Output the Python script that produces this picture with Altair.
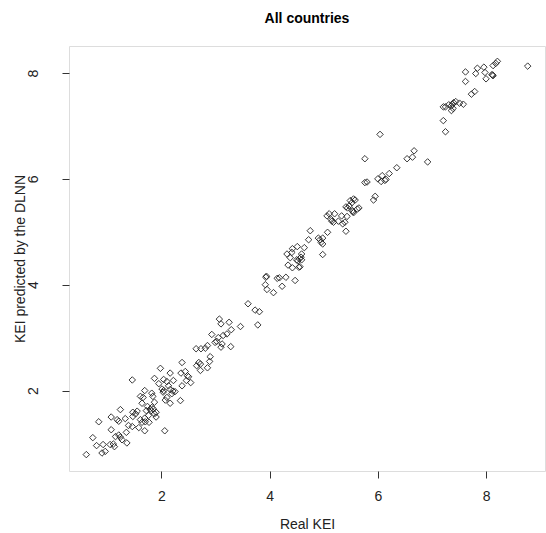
import altair as alt
import pandas as pd

real_kei = [
    8.77, 8.21, 8.18, 8.13, 7.96, 7.84, 7.98, 8.11, 8.13, 8.12, 7.81, 7.62, 8.00, 7.62, 7.79, 7.73,
    7.44, 7.38, 7.40, 7.36, 7.39, 7.51, 7.58, 7.21, 7.25, 7.31, 7.36, 7.21, 7.25,
    6.04, 5.76, 6.67, 6.64, 6.54, 6.92, 6.35, 6.21, 6.08, 6.00, 6.06, 6.13, 6.15, 5.76, 5.80, 5.95, 5.92,
    5.55, 5.49, 5.58, 5.41, 5.47, 5.53, 5.55, 5.54, 5.65, 5.62, 5.44, 5.52,
    5.06, 5.10, 5.20, 5.14, 5.15, 5.18, 5.33, 5.43, 5.27, 5.35, 5.39, 5.41,
    4.75, 5.07, 4.72, 4.90, 4.93, 4.98, 4.95, 4.98, 4.98, 4.64, 4.59, 4.58, 4.59, 4.56,
    4.51, 4.42, 4.32, 4.38, 4.41, 4.50, 4.55, 4.52, 4.34, 4.42, 4.54, 4.47,
    3.93, 3.94, 3.92, 3.95, 4.07, 4.14, 4.18, 4.30, 4.23,
    3.60, 3.73, 3.81, 3.78, 3.07, 3.10, 3.25, 3.46, 3.29,
    2.93, 3.14, 3.21, 2.99, 3.02, 3.05, 3.12, 3.10, 3.28, 2.85, 2.64, 2.73, 2.81, 2.90,
    2.38, 2.89, 2.69, 2.72, 2.65, 2.85, 2.72, 1.98, 2.16, 2.36, 2.44, 2.48, 2.50, 2.46, 2.54, 2.38,
    1.87, 2.04, 2.10, 2.22, 1.95, 2.13, 2.01, 2.04, 2.03, 2.16, 2.21, 2.25, 2.19, 2.10, 2.07, 2.16, 2.35,
    1.82, 1.84, 1.87, 1.82, 1.85, 1.81, 1.90, 1.87, 1.90,
    1.46, 1.69, 1.61, 1.66, 1.64, 1.74, 1.79, 1.72, 1.76,
    1.69, 1.77, 2.06, 1.24, 1.47, 1.52, 1.55, 1.33, 1.47, 1.61, 1.64, 1.70, 1.39, 1.46, 1.58, 1.69,
    1.35, 1.07, 0.84, 1.07, 1.18, 1.21, 1.24, 1.27, 1.21, 1.15, 1.36, 1.05, 1.11, 1.13,
    0.73, 0.80, 0.92, 0.90, 0.96, 0.61,
]

predicted_kei = [
    8.13, 8.22, 8.18, 8.14, 8.11, 8.09, 8.01, 7.97, 7.95, 7.96, 7.99, 8.02, 7.89, 7.84, 7.65, 7.60,
    7.46, 7.41, 7.44, 7.38, 7.33, 7.43, 7.41, 7.36, 7.36, 7.40, 7.29, 7.10, 6.89,
    6.84, 6.38, 6.53, 6.41, 6.38, 6.32, 6.21, 6.10, 6.06, 6.00, 5.95, 5.97, 5.99, 5.93, 5.94, 5.67, 5.60,
    5.62, 5.59, 5.60, 5.47, 5.49, 5.40, 5.36, 5.38, 5.45, 5.43, 5.45, 5.55,
    5.30, 5.34, 5.34, 5.23, 5.20, 5.18, 5.30, 5.29, 5.20, 5.15, 5.18, 5.01,
    5.02, 4.99, 4.85, 4.88, 4.85, 4.88, 4.80, 4.77, 4.57, 4.70, 4.58, 4.52, 4.47, 4.34,
    4.72, 4.68, 4.58, 4.51, 4.61, 4.47, 4.49, 4.45, 4.37, 4.32, 4.33, 4.08,
    4.14, 4.16, 4.00, 3.91, 3.85, 4.12, 4.13, 4.14, 3.97,
    3.64, 3.52, 3.49, 3.24, 3.35, 3.26, 3.29, 3.21, 3.15,
    3.06, 3.04, 3.07, 2.91, 2.93, 3.00, 2.88, 2.82, 2.83, 2.85, 2.79, 2.79, 2.80, 2.64,
    2.53, 2.55, 2.53, 2.50, 2.47, 2.43, 2.38, 2.42, 2.33, 2.33, 2.36, 2.28, 2.26, 2.19, 2.15, 2.09,
    2.23, 2.21, 2.17, 2.19, 2.13, 2.09, 2.03, 2.00, 1.97, 2.02, 1.99, 1.98, 1.94, 1.87, 1.82, 1.76, 1.81,
    1.95, 1.89, 1.78, 1.68, 1.65, 1.62, 1.59, 1.56, 1.50,
    2.20, 2.00, 1.89, 1.87, 1.76, 1.70, 1.65, 1.62, 1.53,
    1.48, 1.40, 1.24, 1.64, 1.59, 1.56, 1.61, 1.47, 1.51, 1.45, 1.40, 1.41, 1.34, 1.32, 1.30, 1.24,
    1.21, 1.26, 1.41, 1.50, 1.45, 1.42, 1.12, 1.07, 1.16, 1.13, 1.01, 0.98, 0.99, 0.94,
    1.11, 0.96, 0.98, 0.82, 0.85, 0.79,
]

x_ticks = [2, 4, 6, 8]
y_ticks = [2, 4, 6, 8]

df = pd.DataFrame({"real": real_kei, "pred": predicted_kei})

FONT = "Liberation Sans"

points = alt.Chart(df).mark_point(
    shape="diamond", filled=False, size=42, strokeWidth=0.9, color="#222", opacity=1
).encode(
    x=alt.X(
        "real:Q",
        scale=alt.Scale(domain=[0.29, 9.09], nice=False, zero=False),
        axis=alt.Axis(
            values=x_ticks, title="Real KEI", grid=False, domain=False,
            tickSize=7, tickColor="#333", labelPadding=11,
            labelFontSize=14, labelFont=FONT, labelColor="#222",
            titleFontSize=14, titleFont=FONT, titleFontWeight="normal",
            titleColor="#222", titleY=57, titleBaseline="alphabetic",
        ),
    ),
    y=alt.Y(
        "pred:Q",
        scale=alt.Scale(domain=[0.48, 8.51], nice=False, zero=False),
        axis=alt.Axis(
            values=y_ticks, title="KEI predicted by the DLNN", grid=False, domain=False,
            tickSize=7, tickColor="#333", labelPadding=22,
            labelAngle=270, labelAlign="center", labelBaseline="bottom",
            labelFontSize=14, labelFont=FONT, labelColor="#222",
            titleFontSize=14, titleFont=FONT, titleFontWeight="normal",
            titleColor="#222", titleX=-45, titleBaseline="alphabetic",
        ),
    ),
)

chart = points.properties(
    width=476,
    height=425,
    autosize=alt.AutoSizeParams(type="none"),
    padding={"left": 69, "top": 46, "right": 1, "bottom": 62},
    title=alt.TitleParams(
        "All countries", fontSize=14, fontWeight="bold", font=FONT,
        anchor="middle", baseline="bottom", offset=22, dy=16, color="#000",
    ),
).configure_view(stroke="#444", strokeWidth=1).configure(background="white")

chart.save("out.html", embed_options={"renderer": "svg", "actions": False})
